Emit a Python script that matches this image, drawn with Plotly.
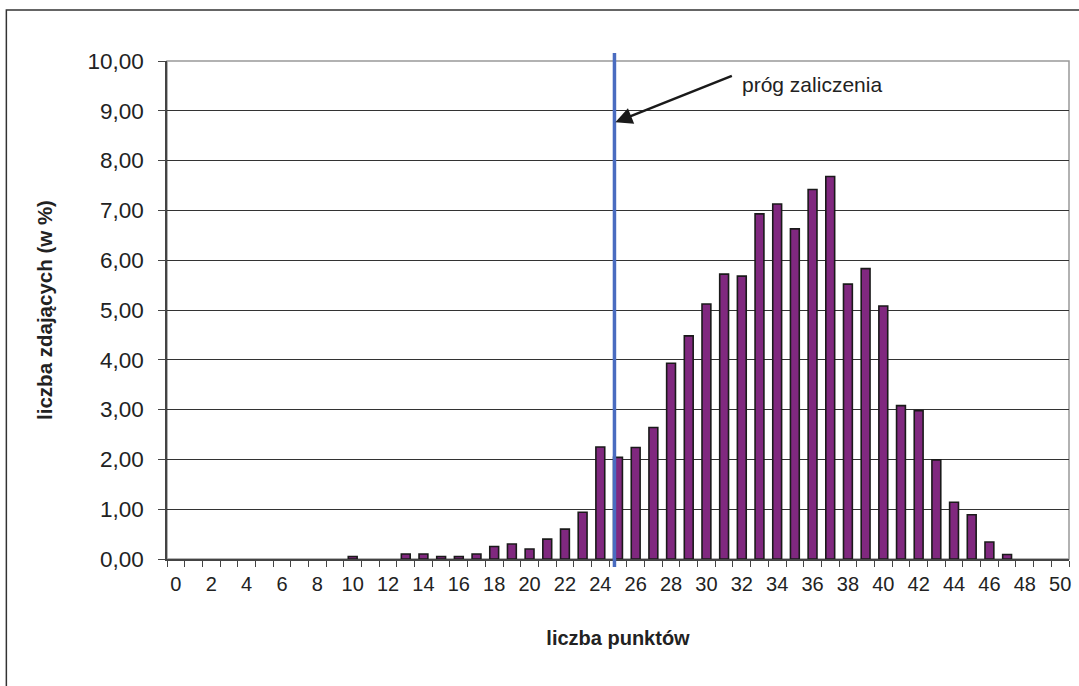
import plotly.graph_objects as go

# ---- data ----
points = list(range(0, 51))
percent = [0, 0, 0, 0, 0, 0, 0, 0, 0, 0,
           0.05, 0, 0, 0.10, 0.10, 0.05, 0.05, 0.10, 0.25, 0.30,
           0.20, 0.40, 0.60, 0.94, 2.25, 2.04, 2.24, 2.64, 3.93, 4.48,
           5.12, 5.72, 5.68, 6.93, 7.13, 6.63, 7.42, 7.68, 5.52, 5.83,
           5.08, 3.08, 2.98, 1.99, 1.14, 0.89, 0.34, 0.09, 0, 0, 0]
x_tick_labels = [str(v) for v in range(0, 51, 2)]
threshold = 24.8
threshold_label = "próg zaliczenia"
x_title = "liczba punktów"
y_title = "liczba zdających (w %)"

FONT = "Liberation Sans, Arial, sans-serif"

fig = go.Figure()
fig.add_trace(go.Bar(
    x=points, y=[v if v > 0 else None for v in percent], width=0.5,
    marker=dict(color="#80287F", line=dict(color="#1a1a1a", width=1.6)),
    showlegend=False,
))

L, R, T, B = 167, 8, 61, 127
W, H = 1079, 686
pw, ph = W - L - R, H - T - B

fig.update_layout(
    width=W, height=H,
    margin=dict(l=L, r=R, t=T, b=B, pad=0),
    paper_bgcolor="white", plot_bgcolor="white",
    separators=", ",
    font=dict(family=FONT, size=21, color="#222"),
    xaxis=dict(
        range=[-0.5, 50.5], tickmode="array",
        tickvals=list(range(0, 51, 2)), ticktext=x_tick_labels,
        ticks="", showgrid=False, zeroline=False,
        showline=True, linecolor="#444", linewidth=1.5,
        minor=dict(tickmode="linear", tick0=0.5, dtick=1, ticks="outside",
                   ticklen=6, tickcolor="#444", tickwidth=1.2, showgrid=False),
        tickfont=dict(size=20, color="#222"),
        ticklabelstandoff=6,
        title=dict(text="<b>" + x_title + "</b>", font=dict(size=20, color="#222"), standoff=37),
    ),
    yaxis=dict(
        range=[0, 10], dtick=1, tick0=0, tickformat=".2f",
        ticks="outside", ticklen=7, tickcolor="#444", tickwidth=1.2,
        showgrid=True, gridcolor="#333", gridwidth=1, zeroline=False,
        showline=True, linecolor="#444", linewidth=1.5,
        tickfont=dict(size=22.5, color="#222"),
        ticklabelstandoff=10,
        title=dict(text="<b>" + y_title + "</b>", font=dict(size=20.5, color="#222"), standoff=29),
    ),
)

# plot-area border (top / right grey)
fig.add_shape(type="rect", xref="paper", yref="paper", x0=0, x1=1, y0=0, y1=1,
              line=dict(color="#999", width=1.5), layer="below")
# outer chart border (left and top visible)
fig.add_shape(type="rect", xref="paper", yref="paper",
              x0=(6 - L) / pw, x1=(W + 20 - L) / pw,
              y0=-(H + 20 - T - ph) / ph, y1=1 + (T - 10) / ph,
              line=dict(color="#333", width=1.5), layer="below")
# threshold line
fig.add_shape(type="line", xref="x", yref="paper", x0=threshold, x1=threshold,
              y0=-8 / ph, y1=1 + 8 / ph, line=dict(color="#4A6CC0", width=3.5))

# arrow
fig.add_annotation(x=threshold + 0.05, y=8.77, xref="x", yref="y", text="",
                   showarrow=True, ax=118, ay=-47, axref="pixel", ayref="pixel",
                   arrowhead=2, arrowsize=1.3, arrowwidth=2.6, arrowcolor="#1a1a1a",
                   standoff=0)
fig.add_annotation(x=31.9, y=9.53, xref="x", yref="y", text=threshold_label,
                   showarrow=False, xanchor="left", yanchor="middle",
                   font=dict(size=21, color="#222"))

fig.write_html("out.html", config={"displayModeBar": False},
               post_script="document.body.style.margin='0';document.body.style.overflow='hidden';")
